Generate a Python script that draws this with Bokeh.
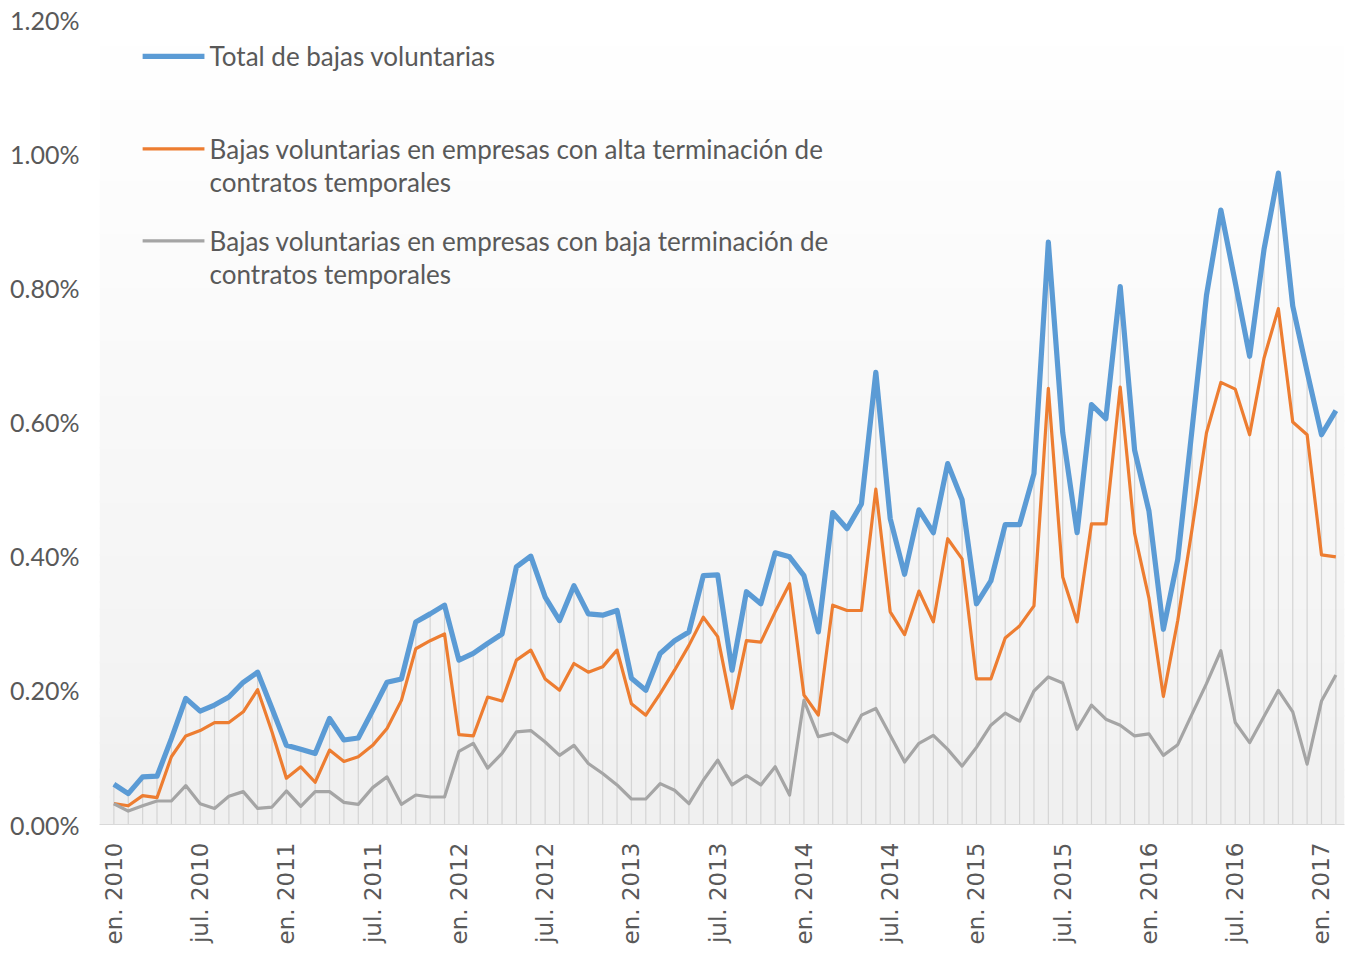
import numpy as np
from bokeh.plotting import figure
from bokeh.models import (Range1d, FixedTicker, PrintfTickFormatter, BoxAnnotation,
                          Label, Arrow, ColumnDataSource)
from bokeh.embed import file_html
from bokeh.resources import INLINE

# ---------------- data (monthly, en. 2010 .. feb. 2017), values in % ----------------
total = [0.060, 0.046, 0.071, 0.072, 0.128, 0.188, 0.169, 0.178, 0.190, 0.212,
         0.227, 0.173, 0.118, 0.112, 0.106, 0.158, 0.126, 0.129, 0.170, 0.212,
         0.217, 0.302, 0.314, 0.327, 0.245, 0.255, 0.270, 0.284, 0.384, 0.400,
         0.339, 0.304, 0.356, 0.314, 0.312, 0.319, 0.218, 0.200, 0.255, 0.274,
         0.287, 0.371, 0.372, 0.230, 0.347, 0.329, 0.405, 0.399, 0.371, 0.287,
         0.465, 0.441, 0.478, 0.674, 0.456, 0.373, 0.469, 0.435, 0.538, 0.484,
         0.329, 0.363, 0.447, 0.447, 0.523, 0.868, 0.584, 0.435, 0.626, 0.605,
         0.802, 0.558, 0.467, 0.291, 0.395, 0.590, 0.789, 0.916, 0.808, 0.698,
         0.857, 0.971, 0.773, 0.675, 0.581, 0.617]

alta = [0.031, 0.028, 0.043, 0.040, 0.101, 0.132, 0.140, 0.152, 0.152, 0.168,
        0.201, 0.138, 0.069, 0.086, 0.063, 0.111, 0.094, 0.101, 0.118, 0.143,
        0.185, 0.262, 0.274, 0.284, 0.134, 0.132, 0.190, 0.184, 0.245, 0.260,
        0.217, 0.200, 0.240, 0.227, 0.235, 0.260, 0.180, 0.163, 0.195, 0.230,
        0.267, 0.309, 0.280, 0.173, 0.274, 0.272, 0.317, 0.359, 0.193, 0.163,
        0.327, 0.319, 0.319, 0.500, 0.317, 0.283, 0.348, 0.302, 0.426, 0.396,
        0.217, 0.217, 0.278, 0.296, 0.326, 0.650, 0.369, 0.302, 0.448, 0.448,
        0.652, 0.434, 0.337, 0.191, 0.304, 0.441, 0.584, 0.659, 0.649, 0.581,
        0.695, 0.769, 0.600, 0.581, 0.402, 0.399]

baja = [0.031, 0.020, 0.028, 0.035, 0.035, 0.058, 0.031, 0.024, 0.042, 0.049,
        0.024, 0.026, 0.050, 0.027, 0.049, 0.049, 0.033, 0.030, 0.055, 0.071,
        0.030, 0.044, 0.041, 0.041, 0.109, 0.121, 0.084, 0.106, 0.138, 0.140,
        0.123, 0.103, 0.118, 0.091, 0.076, 0.059, 0.038, 0.038, 0.061, 0.051,
        0.031, 0.066, 0.096, 0.059, 0.073, 0.059, 0.086, 0.044, 0.185, 0.131,
        0.136, 0.123, 0.163, 0.173, 0.133, 0.093, 0.121, 0.133, 0.112, 0.087,
        0.115, 0.148, 0.166, 0.154, 0.199, 0.220, 0.211, 0.142, 0.178, 0.157,
        0.148, 0.132, 0.135, 0.103, 0.119, 0.165, 0.210, 0.259, 0.152, 0.122,
        0.161, 0.200, 0.168, 0.090, 0.184, 0.223]

tick_months = [0, 6, 12, 18, 24, 30, 36, 42, 48, 54, 60, 66, 72, 78, 84]
tick_labels = ["en. 2010", "jul. 2010", "en. 2011", "jul. 2011", "en. 2012",
               "jul. 2012", "en. 2013", "jul. 2013", "en. 2014", "jul. 2014",
               "en. 2015", "jul. 2015", "en. 2016", "jul. 2016", "en. 2017"]
y_ticks = [0.0, 0.2, 0.4, 0.6, 0.8, 1.0, 1.2]

legend_lines = [["Total de bajas voluntarias"],
                ["Bajas voluntarias en empresas con alta terminación de", "contratos temporales"],
                ["Bajas voluntarias en empresas con baja terminación de", "contratos temporales"]]

# ---------------- styling ----------------
BLUE, ORANGE, GREY = "#5B9BD5", "#ED7D31", "#A5A5A5"
TXT = "#595959"

x = list(range(len(total)))
src = ColumnDataSource(dict(x=x, total=total, alta=alta, baja=baja, zero=[0.0] * len(x)))

p = figure(width=1353, height=947, x_range=Range1d(-1.0, 85.6), y_range=Range1d(0, 1.2),
           output_backend="svg", toolbar_location=None,
           min_border_left=99, min_border_right=9, min_border_top=19, min_border_bottom=122)
p.outline_line_color = None
p.grid.visible = False
p.background_fill_color = "white"
p.border_fill_color = "white"

# soft vertical gradient background (white at top -> light grey at bottom)
nb = 30
for k in range(nb):
    b = 1.2 * k / nb
    t = 1.2 * (k + 1) / nb + 0.003
    frac = (k + 0.5) / nb
    g = int(round(239 + (255 - 239) * frac ** 0.8))
    p.add_layout(BoxAnnotation(bottom=b, top=t, fill_color=f"#{g:02x}{g:02x}{g:02x}",
                               fill_alpha=1.0, line_color=None, level="underlay"))

# drop lines
p.segment(x0="x", y0="zero", x1="x", y1="total", source=src,
          line_color="#d4d4d4", line_width=1.2)

p.line("x", "total", source=src, line_color=BLUE, line_width=5.2, line_join="round")
p.line("x", "alta", source=src, line_color=ORANGE, line_width=3.2, line_join="round")
p.line("x", "baja", source=src, line_color=GREY, line_width=3.2, line_join="round")

# axes
xa = p.xaxis[0]
xa.ticker = FixedTicker(ticks=tick_months)
xa.major_label_overrides = {m: l for m, l in zip(tick_months, tick_labels)}
xa.major_label_orientation = np.pi / 2
xa.major_label_text_font = "DejaVu Sans"
xa.major_label_text_font_size = "23px"
xa.major_label_text_color = TXT
xa.axis_line_color = "#d9d9d9"
xa.major_tick_line_color = None
xa.minor_tick_line_color = None
xa.major_label_standoff = 12

ya = p.yaxis[0]
ya.ticker = FixedTicker(ticks=y_ticks)
ya.formatter = PrintfTickFormatter(format="%.2f%%")
ya.major_label_text_font = "Lato"
ya.major_label_text_font_size = "25px"
ya.major_label_text_color = TXT
ya.axis_line_color = None
ya.major_tick_line_color = None
ya.minor_tick_line_color = None
ya.major_label_standoff = 14

# legend (manual, top-left)
leg_colors = [BLUE, ORANGE, GREY]
leg_widths = [5.2, 3.2, 3.2]
leg_y = [1.145, 1.007, 0.870]
line_gap = 0.049
for col, lw, yy, lines in zip(leg_colors, leg_widths, leg_y, legend_lines):
    p.add_layout(Arrow(end=None, x_start=2.0, y_start=yy, x_end=6.3, y_end=yy,
                       line_color=col, line_width=lw))
    for j, txt in enumerate(lines):
        p.add_layout(Label(x=6.66, y=yy - j * line_gap, text=txt, text_baseline="middle",
                           text_font="Lato", text_font_size="26px", text_color=TXT))

open("out.html", "w").write(file_html(p, INLINE))
